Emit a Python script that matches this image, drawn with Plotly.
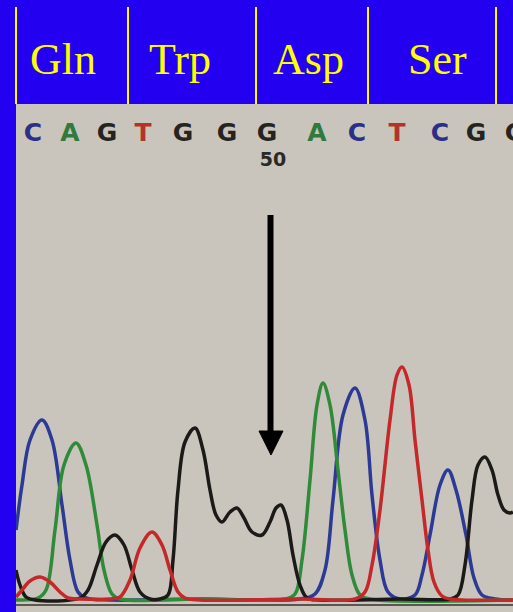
import plotly.graph_objects as go

W, H = 513, 612

# ---- data ----
codons = ["Gln", "Trp", "Asp", "Ser"]
codon_centers = [63, 180, 308, 437]
codon_bounds = [16, 128, 256, 368, 496]

bases = list("CAGTGGGACTCGG")
base_pos = [33, 70, 107, 143, 183, 227, 267, 317, 357, 397, 440, 476, 515]
base_colors = {"C": "#2c2f86", "A": "#2f7a3c", "G": "#262420", "T": "#b3322a"}

blue_x = [16, 22, 30, 42, 52, 62, 70, 78, 86, 110, 200, 300, 315, 325, 333, 343, 355, 365, 372, 380, 388, 400, 415, 422, 430, 440, 448, 456, 466, 474, 482, 495, 513]
blue_y = [70, 115, 160, 180, 160, 95, 40, 8, 2, 0, 1, 1, 6, 30, 100, 185, 212, 180, 105, 40, 8, 1, 5, 25, 65, 115, 130, 110, 65, 22, 5, 1, 0]

green_x = [16, 38, 46, 55, 64, 76, 86, 97, 104, 112, 120, 200, 285, 295, 302, 310, 317, 323, 330, 338, 345, 352, 360, 370, 513]
green_y = [0, 2, 10, 70, 135, 157, 135, 75, 30, 6, 1, 1, 1, 6, 40, 120, 195, 217, 195, 130, 70, 25, 5, 1, 0]

black_x = [16, 20, 26, 35, 80, 88, 97, 106, 115, 124, 132, 140, 150, 160, 168, 173, 178, 185, 195, 203, 210, 216, 222, 230, 237, 244, 252, 262, 270, 276, 281, 287, 293, 300, 307, 320, 400, 450, 458, 465, 472, 478, 485, 492, 498, 504, 510, 513]
black_y = [30, 15, 3, 0, 2, 10, 35, 58, 65, 55, 30, 8, 1, 1, 5, 40, 110, 158, 172, 150, 110, 85, 78, 88, 92, 82, 68, 65, 78, 92, 95, 80, 45, 15, 2, 0, 1, 1, 5, 35, 100, 135, 143, 130, 105, 90, 87, 88]

red_x = [16, 22, 30, 40, 50, 60, 68, 80, 110, 120, 130, 140, 152, 162, 170, 178, 185, 200, 300, 355, 365, 372, 380, 390, 397, 402, 409, 415, 422, 428, 434, 442, 450, 513]
red_y = [3, 10, 19, 23, 18, 8, 2, 1, 1, 3, 20, 52, 68, 55, 30, 8, 2, 0, 1, 1, 8, 35, 90, 180, 225, 233, 215, 160, 100, 50, 18, 4, 1, 0]

# ---- figure ----
fig = go.Figure()

traces = [
    (blue_x, blue_y, "#2d3a95"),
    (green_x, green_y, "#2f8a3a"),
    (black_x, black_y, "#1c1a18"),
    (red_x, red_y, "#c4282a"),
]
for xs, ys, col in traces:
    fig.add_trace(go.Scatter(x=xs, y=ys, mode="lines",
                             line=dict(color=col, width=3.5, shape="spline", smoothing=1.0),
                             hoverinfo="skip", showlegend=False))

fig.add_trace(go.Scatter(
    x=base_pos, y=[465] * len(bases), mode="text", text=bases,
    textfont=dict(family="DejaVu Sans", size=25, weight="bold",
                  color=[base_colors[b] for b in bases]),
    cliponaxis=True, hoverinfo="skip", showlegend=False))

fig.add_trace(go.Scatter(
    x=[273], y=[439], mode="text", text=["50"],
    textfont=dict(family="DejaVu Sans", size=19, weight="bold", color="#2b2926"),
    hoverinfo="skip", showlegend=False))

shapes = []
# baseline
shapes.append(dict(type="line", xref="x", yref="y", x0=16, x1=513, y0=-5, y1=-5,
                   line=dict(color="#5a5650", width=2)))
# arrow
shapes.append(dict(type="line", xref="x", yref="y", x0=270.5, x1=270.5, y0=385, y1=165,
                   line=dict(color="black", width=6)))
shapes.append(dict(type="path", xref="x", yref="y",
                   path="M 259,169 L 283,169 L 271,145 Z",
                   fillcolor="black", line=dict(color="black", width=1)))
# header yellow lines
for b in codon_bounds:
    shapes.append(dict(type="line", xref="paper", yref="paper",
                       x0=b / W, x1=b / W, y0=1 - 7 / H, y1=1 - 104 / H,
                       line=dict(color="#ffff00", width=2)))

annotations = []
for name, cx in zip(codons, codon_centers):
    annotations.append(dict(text=name, x=cx / W, y=1 - 60 / H, xref="paper", yref="paper",
                            xanchor="center", yanchor="middle", showarrow=False,
                            font=dict(family="Liberation Serif, Times New Roman", size=44,
                                      color="#ffff00")))

fig.update_layout(
    width=W, height=H,
    margin=dict(l=0, r=0, t=0, b=0),
    paper_bgcolor="#2300ef",
    plot_bgcolor="#c9c5bc",
    shapes=shapes,
    annotations=annotations,
    xaxis=dict(domain=[16 / W, 1], range=[16, 513], visible=False, fixedrange=True),
    yaxis=dict(domain=[0, (H - 104) / H], range=[-12, 496], visible=False, fixedrange=True),
)

fig.write_html("out.html", config={"displayModeBar": False},
               post_script="document.body.style.margin='0';document.body.style.background='#2300ef';")
